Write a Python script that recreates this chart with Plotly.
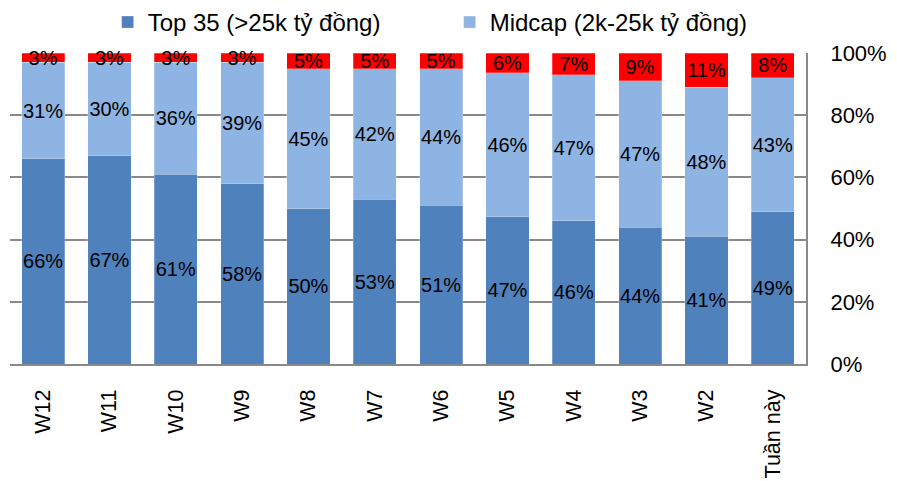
import plotly.graph_objects as go

categories = ["W12", "W11", "W10", "W9", "W8", "W7", "W6", "W5", "W4", "W3", "W2", "Tuần này"]
top35 = [66, 67, 61, 58, 50, 53, 51, 47.4, 46, 44, 41, 49]
midcap = [31, 30, 36, 39, 45, 42, 44, 46.3, 47, 47, 48, 43]
smallcap = [3, 3, 3, 3, 5, 5, 5, 6.3, 7, 9, 11, 8]
y_ticks = [0, 20, 40, 60, 80, 100]

series = [
    ("Top 35 (>25k tỷ đồng)", top35, "#4F81BD", True),
    ("Midcap (2k-25k tỷ đồng)", midcap, "#8EB4E3", True),
    ("Smallcap (<2k tỷ đồng)", smallcap, "#FF0000", False),
]

FONT = "Liberation Sans, Arial, sans-serif"

fig = go.Figure()
for name, vals, color, show in series:
    fig.add_trace(go.Bar(
        x=categories, y=vals, name=name, showlegend=show,
        marker=dict(color=color, line=dict(color="rgba(255,255,255,0.5)", width=0.5)),
        text=[f"{v:.0f}%" for v in vals],
        textposition="inside", insidetextanchor="middle",
        constraintext="none", textangle=0, cliponaxis=False,
        textfont=dict(family=FONT, size=20, color="black"),
        hoverinfo="skip",
    ))

fig.update_layout(
    barmode="stack", bargap=0.35,
    width=897, height=481,
    margin=dict(l=10, r=91, t=53, b=117, autoexpand=False),
    paper_bgcolor="white", plot_bgcolor="white",
    font=dict(family=FONT, size=22, color="black"),
    legend=dict(orientation="h", xref="container", x=0.12, xanchor="left",
                yref="container", y=1.0, yanchor="top",
                font=dict(family=FONT, size=24),
                itemwidth=30, entrywidth=297, traceorder="normal"),
    showlegend=True,
)
fig.update_xaxes(showline=True, linecolor="#898989", linewidth=2, tickangle=-90,
                 ticklabelstandoff=15, showgrid=False,
                 tickfont=dict(size=21.5))
fig.update_yaxes(side="right", range=[0, 100], tickvals=y_ticks,
                 ticktext=[f"{v}%" for v in y_ticks],
                 showgrid=True, gridcolor="#898989", gridwidth=1.5,
                 showline=True, linecolor="#898989", linewidth=2,
                 ticklabelstandoff=18, zeroline=False,
                 tickfont=dict(size=22))

fig.write_html("out.html")
